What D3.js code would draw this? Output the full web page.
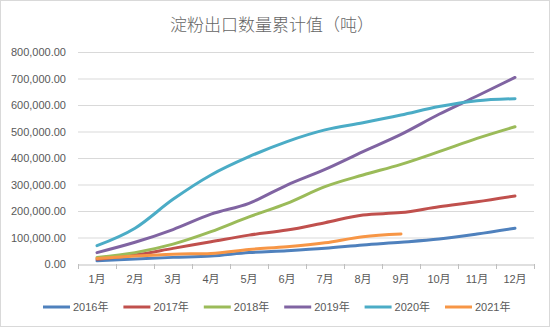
<!DOCTYPE html>
<html><head><meta charset="utf-8">
<script src="https://cdn.jsdelivr.net/npm/d3@7/dist/d3.min.js"></script>
<style>body{margin:0;background:#fff}svg{display:block}</style>
</head><body>
<script>
const months = ["1月","2月","3月","4月","5月","6月","7月","8月","9月","10月","11月","12月"];
const seriesNames = ["2016年","2017年","2018年","2019年","2020年","2021年"];
const colors = ["#4F81BD","#C0504D","#9BBB59","#8064A2","#4BACC6","#F79646"];
const s2016 = [12000,19000,25000,30000,43000,50000,59000,72000,82000,94000,113000,135000];
const s2017 = [18000,34000,59000,84000,109000,128000,156000,185000,194000,216000,235000,257000];
const s2018 = [25000,43000,75000,122000,178000,229000,292000,336000,376000,424000,474000,518000];
const s2019 = [43000,82000,130000,188000,229000,298000,357000,424000,489000,565000,634000,704000];
const s2020 = [69000,135000,244000,336000,405000,462000,506000,533000,562000,594000,616000,624000];
const s2021 = [21000,30000,37000,40000,55000,65000,80000,103000,113000];
const yTicks = [0,100000,200000,300000,400000,500000,600000,700000,800000];
const allSeries = [s2016,s2017,s2018,s2019,s2020,s2021];

const W = 550, H = 327;
const svg = d3.select("body").append("svg").attr("width", W).attr("height", H);
svg.append("rect").attr("x",0.5).attr("y",0.5).attr("width",W-1).attr("height",H-1)
  .attr("fill","#fff").attr("stroke","#d9d9d9");

const x = d3.scaleBand().domain(months).range([78,534]);
const y = d3.scaleLinear().domain([0,800000]).range([264,52]);
const fmt = d3.format(",.2f");

svg.append("text").attr("x",272).attr("y",31).attr("text-anchor","middle")
  .attr("font-family","'Noto Sans CJK SC', sans-serif").attr("font-size",17)
  .attr("font-weight",300)
  .attr("fill","#666").text("淀粉出口数量累计值（吨）");

// gridlines
svg.append("g").selectAll("line").data(yTicks.slice(1)).join("line")
  .attr("x1",78).attr("x2",534).attr("y1",d=>y(d)+0.5).attr("y2",d=>y(d)+0.5)
  .attr("stroke","#d9d9d9");

// y axis labels
const ya = svg.append("g").attr("transform","translate(78,0)")
  .call(d3.axisLeft(y).tickValues(yTicks).tickFormat(fmt).tickSize(0).tickPadding(12));
ya.select(".domain").remove();
ya.selectAll("text").attr("font-family","'Liberation Sans', Arial, sans-serif")
  .attr("font-size",11).attr("fill","#595959");

// x axis
const xa = svg.append("g").attr("transform","translate(0,264.5)")
  .call(d3.axisBottom(x).tickSize(0).tickPadding(11));
xa.select(".domain").attr("stroke","#bfbfbf");
xa.selectAll("text").attr("font-family","'Liberation Sans','Noto Sans CJK SC', sans-serif")
  .attr("font-size",11).attr("fill","#595959");
const bounds = months.map(m=>x(m)).concat([x.range()[1]]);
svg.append("g").selectAll("line").data(bounds).join("line")
  .attr("x1",d=>Math.round(d)+0.5).attr("x2",d=>Math.round(d)+0.5)
  .attr("y1",264).attr("y2",269).attr("stroke","#bfbfbf");

const line = d3.line().x((d,i)=>x(months[i])+x.bandwidth()/2).y(d=>y(d))
  .curve(d3.curveMonotoneX);
svg.append("g").selectAll("path").data(allSeries).join("path")
  .attr("d",d=>line(d)).attr("fill","none")
  .attr("stroke",(d,i)=>colors[i]).attr("stroke-width",3)
  .attr("stroke-linejoin","round").attr("stroke-linecap","round");

// legend
const lg = svg.append("g").selectAll("g").data(seriesNames).join("g")
  .attr("transform",(d,i)=>`translate(${43+i*80.4},307)`);
lg.append("line").attr("x1",0).attr("x2",27).attr("y1",0).attr("y2",0)
  .attr("stroke",(d,i)=>colors[i]).attr("stroke-width",3);
lg.append("text").attr("x",30).attr("y",4).text(d=>d)
  .attr("font-family","'Liberation Sans','Noto Sans CJK SC', sans-serif")
  .attr("font-size",11).attr("fill","#595959");
</script>
</body></html>
